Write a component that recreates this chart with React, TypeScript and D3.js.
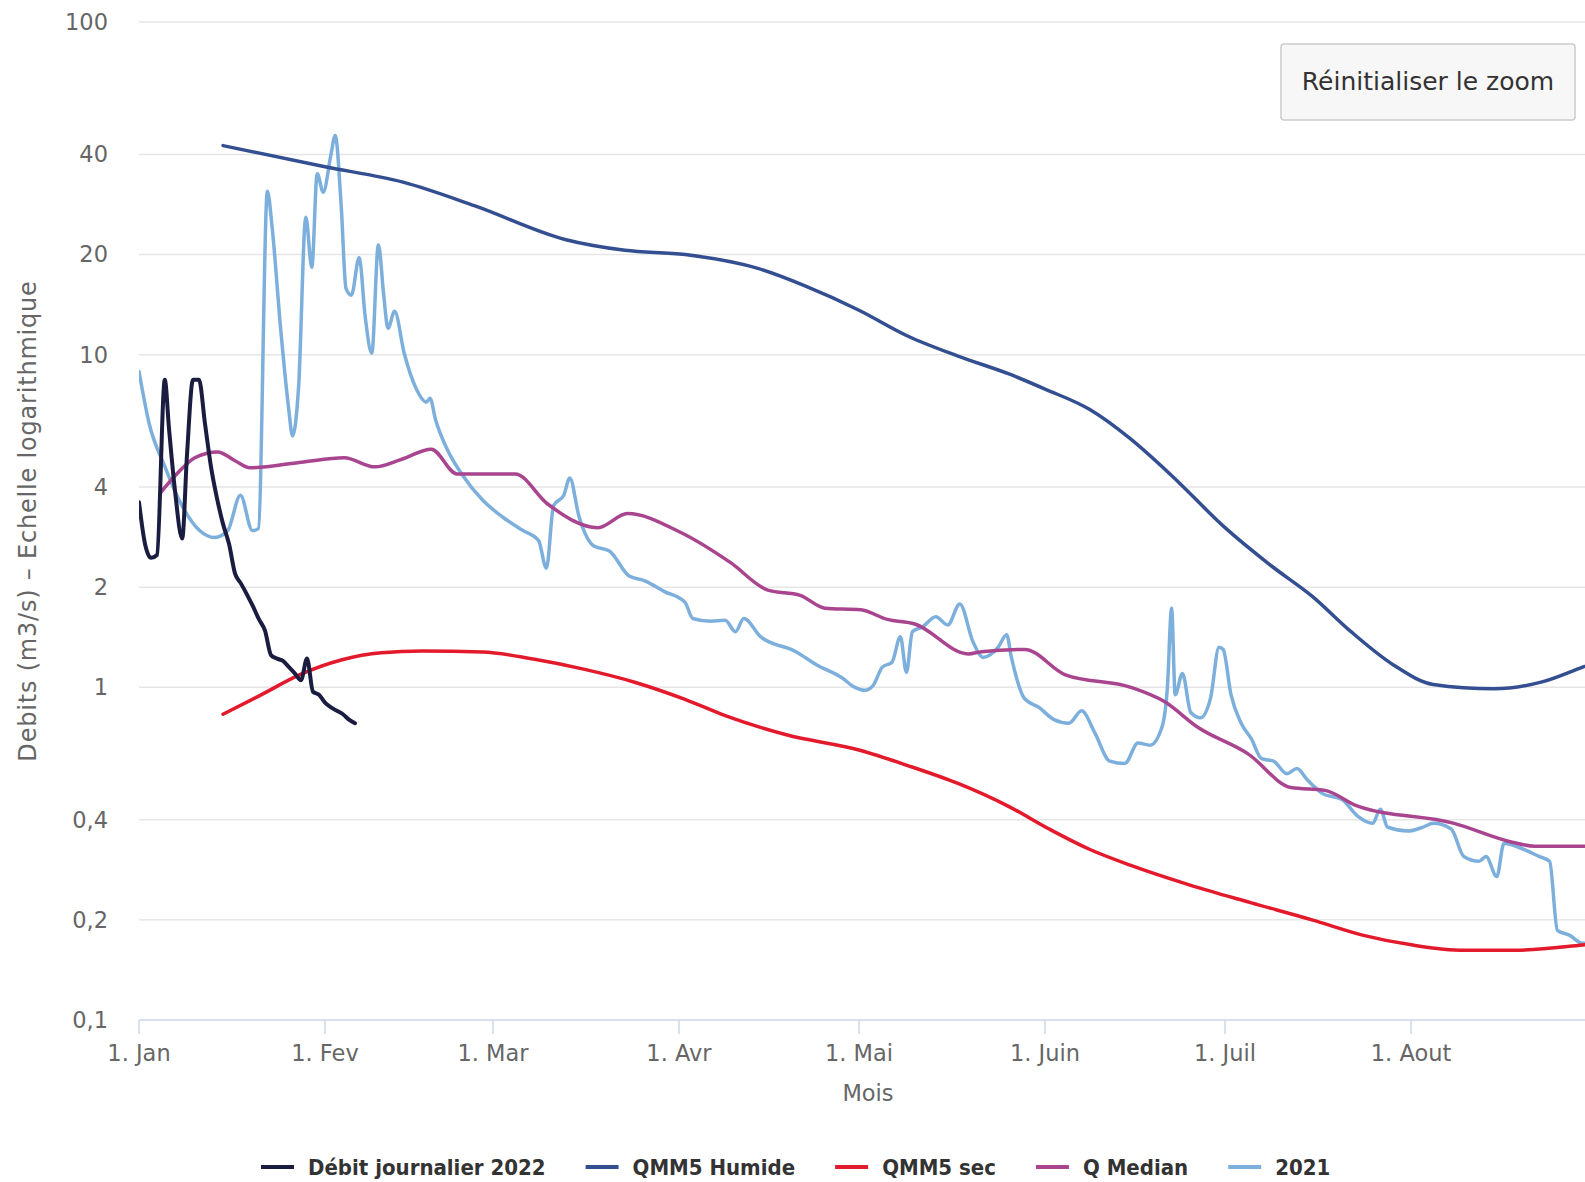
import { useEffect, useRef } from 'react';
import * as d3 from 'd3';

// [day offset from 1 Jan, debit m3/s]
type Pt = [number, number];

const seriesNames = ['Débit journalier 2022', 'QMM5 Humide', 'QMM5 sec', 'Q Median', '2021'];
const seriesColors = ['#1a1d40', '#344f91', '#e31a2c', '#a9448f', '#7dafdc'];

const debit2022: Pt[] = [
  [0, 3.6], [1, 2.7], [2, 2.45], [3, 2.5], [4.3, 8.4], [5, 6.0], [6, 3.9], [7.2, 2.8],
  [8, 5.0], [9, 8.4], [10, 8.4], [11, 6.2], [12, 4.6], [13, 3.7], [14, 3.1], [15, 2.7],
  [16, 2.2], [17, 2.05], [18, 1.9], [19, 1.75], [20, 1.6], [21, 1.48], [22, 1.25], [23, 1.22],
  [24, 1.2], [25, 1.15], [26, 1.1], [27, 1.05], [28, 1.22], [29, 0.97], [30, 0.95], [31, 0.9],
  [32, 0.87], [33, 0.85], [34, 0.83], [35, 0.8], [36, 0.78],
];

const qmm5Humide: Pt[] = [
  [14, 42.5], [31, 36.7], [44, 33], [56, 28], [71, 22.2], [81, 20.6], [91, 20], [103, 18.2],
  [111, 16.1], [120, 13.6], [128, 11.4], [136.5, 9.9], [145, 8.75], [151, 7.88], [158.4, 6.85],
  [165, 5.63], [172, 4.35], [181, 3.02], [188.7, 2.32], [195.5, 1.88], [202, 1.47], [209, 1.17],
  [215.7, 1.02], [225.8, 0.99], [234, 1.04], [240.6, 1.15], [246, 1.25],
];

const qmm5Sec: Pt[] = [
  [14, 0.83], [20.2, 0.946], [27, 1.095], [33.7, 1.208], [40.4, 1.27], [47.2, 1.285], [57.3, 1.278],
  [65.7, 1.216], [74.1, 1.134], [82.6, 1.036], [91, 0.92], [97.7, 0.822], [107.9, 0.72], [120, 0.648],
  [128, 0.583], [136.5, 0.514], [145, 0.438], [151.7, 0.375], [158.4, 0.326], [165.2, 0.292],
  [175.3, 0.254], [185.4, 0.225], [195.5, 0.2], [203.9, 0.18], [212.3, 0.168], [220.8, 0.162],
  [229.2, 0.162], [240.6, 0.168], [246, 0.172],
];

const qMedian: Pt[] = [
  [3.5, 3.83], [6.4, 4.4], [9.3, 4.9], [13.1, 5.1], [16, 4.8], [18.5, 4.57], [27, 4.75], [34.2, 4.9],
  [39.3, 4.6], [43.8, 4.85], [48.7, 5.2], [53, 4.38], [62.7, 4.38], [68, 3.57], [76.5, 3.02],
  [81.4, 3.33], [90.3, 2.92], [98.6, 2.37], [104.8, 1.96], [110.2, 1.89], [114.3, 1.73], [120.3, 1.71],
  [124.7, 1.6], [129.3, 1.55], [138.2, 1.26], [140.4, 1.28], [147.6, 1.3], [154.4, 1.09],
  [165.3, 1.0], [170.9, 0.906], [176.4, 0.76], [184.9, 0.63], [192, 0.5], [197.7, 0.49],
  [203, 0.44], [219.2, 0.39], [228.7, 0.343], [232.6, 0.333], [240.6, 0.333], [246, 0.333],
];

const annee2021: Pt[] = [
  [0, 8.9], [1.7, 6.2], [4.2, 4.66], [6.7, 3.65], [10.1, 2.96], [12.6, 2.82], [14.8, 2.96],
  [16.9, 3.78], [18.9, 2.96], [19.9, 3.0], [21.4, 31], [22.2, 24], [23.6, 12], [24.9, 7],
  [25.6, 5.7], [26.6, 8], [27.8, 25.9], [28.8, 18.3], [29.7, 35], [30.7, 30.8], [32, 40],
  [32.7, 45.6], [33.7, 28], [34.5, 15.8], [35.4, 15.1], [36.7, 19.6], [37.7, 13], [38.8, 10.1],
  [39.9, 21.4], [40.8, 15], [41.5, 12], [42.6, 13.5], [44.2, 10.1], [46.2, 7.9], [47.9, 7.2],
  [48.5, 7.4], [49.4, 6.4], [51.4, 5.18], [53.9, 4.35], [57.3, 3.65], [60.7, 3.24], [64, 2.96],
  [66.6, 2.76], [67.9, 2.28], [69.1, 3.52], [70.8, 3.78], [71.8, 4.26], [73.3, 3.28], [75.8, 2.66],
  [78.4, 2.57], [81.7, 2.16], [84.3, 2.09], [87.6, 1.94], [91, 1.8], [92.3, 1.61], [95.2, 1.58],
  [97.7, 1.59], [99.4, 1.47], [100.8, 1.61], [103.6, 1.42], [109.5, 1.28], [112.9, 1.17],
  [117.1, 1.07], [119.3, 1.0], [121, 0.98], [122.3, 1.01], [123.9, 1.15], [125.5, 1.19],
  [126.9, 1.42], [127.9, 1.11], [128.9, 1.47], [130.6, 1.52], [132.8, 1.63], [134.8, 1.54],
  [136.8, 1.78], [139, 1.37], [140.7, 1.23], [143.2, 1.32], [144.6, 1.44], [145.4, 1.23],
  [147.5, 0.93], [150, 0.87], [152.5, 0.8], [155, 0.78], [157.1, 0.85], [159.3, 0.73],
  [161.8, 0.6], [164.3, 0.59], [166.5, 0.68], [168.5, 0.67], [170.5, 0.76], [171.4, 1.0],
  [172.1, 1.73], [172.7, 0.95], [173.9, 1.1], [175.3, 0.84], [176.9, 0.81], [178.6, 0.93],
  [180, 1.32], [180.7, 1.3], [182, 0.95], [183.7, 0.78], [185.4, 0.7], [187.1, 0.61],
  [189.1, 0.6], [191.3, 0.55], [193, 0.57], [194.6, 0.53], [197.2, 0.48], [200.5, 0.46],
  [203.1, 0.41], [205.6, 0.39], [206.9, 0.43], [208.1, 0.38], [211.5, 0.37], [214, 0.38],
  [215.7, 0.39], [218.7, 0.375], [220.8, 0.31], [223.3, 0.3], [224.5, 0.31], [226.3, 0.27],
  [227.5, 0.34], [230, 0.33], [233.4, 0.31], [235.1, 0.3], [236.4, 0.186], [238.4, 0.18],
  [240.6, 0.17], [244, 0.17],
];

const monthStarts = ['2022-01-01', '2022-02-01', '2022-03-01', '2022-04-01', '2022-05-01', '2022-06-01', '2022-07-01', '2022-08-01'];
const monthLabels = ['1. Jan', '1. Fev', '1. Mar', '1. Avr', '1. Mai', '1. Juin', '1. Juil', '1. Aout'];
const yTicks = [0.1, 0.2, 0.4, 1, 2, 4, 10, 20, 40, 100];

const W = 1585;
const H = 1182;
const labelFont = '"DejaVu Sans", Verdana, sans-serif';
const legendFont = '"DejaVu Sans Condensed", "DejaVu Sans", sans-serif';

const App = () => {
  const svgRef = useRef<SVGSVGElement>(null);

  useEffect(() => {
    if (!svgRef.current) return;
    const svg = d3.select(svgRef.current);
    svg.selectAll('*').remove();

    const left = 139;
    const right = W;
    const top = 22;
    const bottom = 1020;

    const jan1 = Date.UTC(2022, 0, 1);
    const toDate = (d: number) => new Date(jan1 + d * 864e5);

    const x = d3.scaleUtc()
      .domain([new Date('2022-01-01'), new Date('2022-08-01')])
      .range([left, 1411]);
    const y = d3.scaleLog().domain([0.1, 100]).range([bottom, top]);

    svg.append('defs').append('clipPath').attr('id', 'plot-clip')
      .append('rect')
      .attr('x', left).attr('y', 0)
      .attr('width', right - left).attr('height', bottom);

    // grid lines
    svg.append('g')
      .selectAll('line')
      .data(yTicks.slice(1))
      .join('line')
      .attr('x1', left).attr('x2', right)
      .attr('y1', d => y(d)).attr('y2', d => y(d))
      .attr('stroke', '#e6e6e6')
      .attr('stroke-width', 1.5);

    // y labels
    svg.append('g')
      .selectAll('text')
      .data(yTicks)
      .join('text')
      .attr('x', 108)
      .attr('y', d => y(d))
      .attr('dy', '0.35em')
      .attr('text-anchor', 'end')
      .attr('fill', '#666')
      .style('font-family', labelFont)
      .style('font-size', '22.5px')
      .text(d => String(d).replace('.', ','));

    // x axis
    const xAxis = svg.append('g');
    xAxis.append('line')
      .attr('x1', left).attr('x2', right)
      .attr('y1', bottom).attr('y2', bottom)
      .attr('stroke', '#ccd6eb').attr('stroke-width', 1.5);
    const months = monthStarts.map(s => new Date(s));
    xAxis.selectAll('line.tick')
      .data(months)
      .join('line')
      .attr('class', 'tick')
      .attr('x1', d => x(d)).attr('x2', d => x(d))
      .attr('y1', bottom).attr('y2', bottom + 14)
      .attr('stroke', '#ccd6eb').attr('stroke-width', 1.5);
    xAxis.selectAll('text')
      .data(months)
      .join('text')
      .attr('x', d => x(d))
      .attr('y', 1061)
      .attr('text-anchor', 'middle')
      .attr('fill', '#666')
      .style('font-family', labelFont)
      .style('font-size', '22.5px')
      .text((d, i) => monthLabels[i]);

    // axis titles
    svg.append('text')
      .attr('x', (left + right) / 2 + 6)
      .attr('y', 1101)
      .attr('text-anchor', 'middle')
      .attr('fill', '#666')
      .style('font-family', labelFont)
      .style('font-size', '22.5px')
      .text('Mois');

    svg.append('text')
      .attr('transform', `translate(36,${(top + bottom) / 2}) rotate(-90)`)
      .attr('text-anchor', 'middle')
      .attr('fill', '#666')
      .style('font-family', labelFont)
      .style('font-size', '24px')
      .style('letter-spacing', '0.8px')
      .text('Debits (m3/s) – Echelle logarithmique');

    // series
    const line = d3.line<Pt>()
      .x(d => x(toDate(d[0])))
      .y(d => y(d[1]))
      .curve(d3.curveMonotoneX);

    const series = [debit2022, qmm5Humide, qmm5Sec, qMedian, annee2021];
    const drawOrder = [4, 3, 2, 1, 0];
    const plot = svg.append('g').attr('clip-path', 'url(#plot-clip)');
    drawOrder.forEach(i => {
      plot.append('path')
        .attr('d', line(series[i]))
        .attr('fill', 'none')
        .attr('stroke', seriesColors[i])
        .attr('stroke-width', i === 0 ? 4 : 3.5)
        .attr('stroke-linejoin', 'round')
        .attr('stroke-linecap', 'round');
    });

    // reset zoom button
    const btn = svg.append('g');
    btn.append('rect')
      .attr('x', 1281).attr('y', 44)
      .attr('width', 294).attr('height', 76)
      .attr('rx', 3)
      .attr('fill', '#f7f7f7')
      .attr('stroke', '#cccccc')
      .attr('stroke-width', 1.5);
    btn.append('text')
      .attr('x', 1428).attr('y', 90)
      .attr('text-anchor', 'middle')
      .attr('fill', '#333')
      .style('font-family', labelFont)
      .style('font-size', '25px')
      .text('Réinitialiser le zoom');

    // legend
    const legend = svg.append('g');
    let lx = 261;
    const ly = 1167;
    seriesNames.forEach((name, i) => {
      legend.append('line')
        .attr('x1', lx).attr('x2', lx + 33)
        .attr('y1', ly).attr('y2', ly)
        .attr('stroke', seriesColors[i])
        .attr('stroke-width', 4);
      const t = legend.append('text')
        .attr('x', lx + 47)
        .attr('y', ly + 8)
        .attr('fill', '#333')
        .style('font-family', legendFont)
        .style('font-stretch', 'condensed')
        .style('font-weight', 'bold')
        .style('font-size', '22px')
        .text(name);
      const w = (t.node() as SVGTextElement).getComputedTextLength();
      lx += 47 + w + 40;
    });
  }, []);

  return (
    <svg
      ref={svgRef}
      width={W}
      height={H}
      style={{ position: 'absolute', left: 0, top: 0, background: '#fff' }}
    />
  );
};

export default App;
